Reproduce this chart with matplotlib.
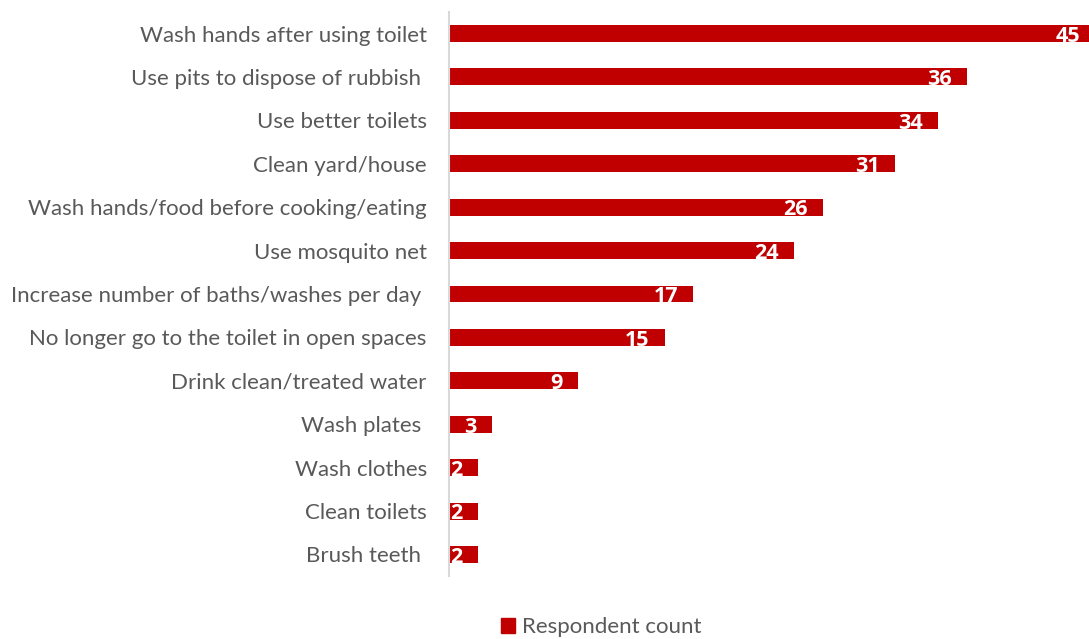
import matplotlib.pyplot as plt
from matplotlib.patches import Patch

# hygiene practices adopted, bottom to top as drawn
practices = [
    "Brush teeth ",
    "Clean toilets",
    "Wash clothes",
    "Wash plates ",
    "Drink clean/treated water",
    "No longer go to the toilet in open spaces",
    "Increase number of baths/washes per day ",
    "Use mosquito net",
    "Wash hands/food before cooking/eating",
    "Clean yard/house",
    "Use better toilets",
    "Use pits to dispose of rubbish ",
    "Wash hands after using toilet",
]
counts = [2, 2, 2, 3, 9, 15, 17, 24, 26, 31, 34, 36, 45]

BAR_RED = "#C00000"
TEXT_GREY = "#595959"

plt.rcParams["font.family"] = ["Lato", "DejaVu Sans"]

fig = plt.figure(figsize=(10.89, 6.39), dpi=100)
ax = fig.add_axes([449 / 1089, 1 - 576.2 / 639, (1096 - 449) / 1089, (576.2 - 11.8) / 639])

ypos = range(len(practices))
bars = ax.barh(ypos, counts, height=0.39, color=BAR_RED, edgecolor="none")
ax.set_xlim(0, 45)
ax.set_ylim(-0.5, len(practices) - 0.5)

ax.set_yticks(list(ypos))
ax.set_yticklabels(practices, fontsize=16, color=TEXT_GREY)
ax.tick_params(axis="y", length=0, pad=16)
ax.set_xticks([])

for side in ["top", "right", "bottom"]:
    ax.spines[side].set_visible(False)
ax.spines["left"].set_color("#D9D9D9")
ax.spines["left"].set_linewidth(1.5)

# value labels inside the bar end
for bar, val in zip(bars, counts):
    ax.annotate(str(val), xy=(bar.get_width(), bar.get_y() + bar.get_height() / 2),
                xytext=(-11, -2), textcoords="offset points",
                ha="right", va="center", color="white", fontsize=15.5,
                fontweight="bold", family=["Open Sans", "DejaVu Sans"])

fig.legend(handles=[Patch(color=BAR_RED, label="Respondent count")],
           loc="center", bbox_to_anchor=(601 / 1089, 1 - 627 / 639),
           frameon=False, fontsize=16, labelcolor=TEXT_GREY,
           handlelength=0.65, handleheight=0.65, handletextpad=0.3)

fig.savefig("out.png", dpi=100)
